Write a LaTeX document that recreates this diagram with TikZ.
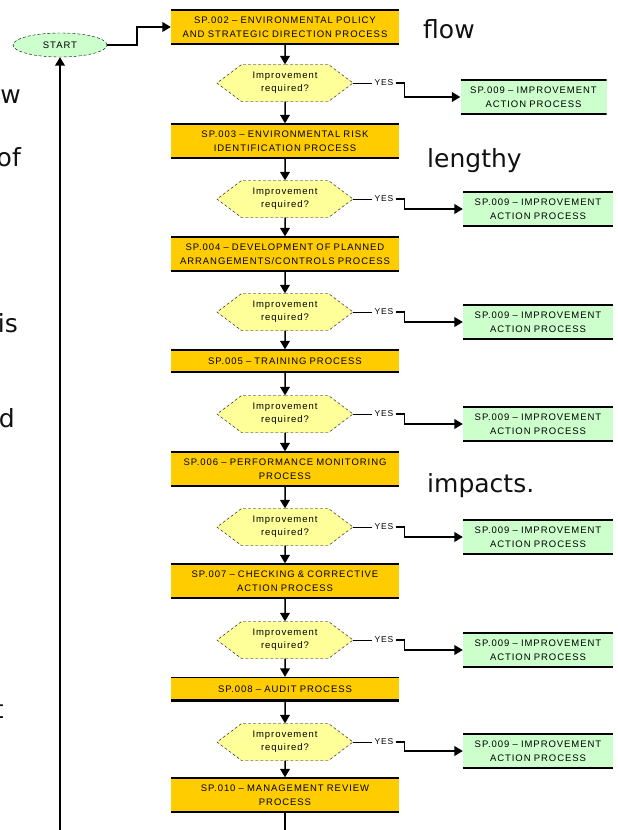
\documentclass[tikz,border=0pt]{standalone}
\usepackage{fontspec}
\usepackage{tikz}
\usetikzlibrary{arrows.meta,shapes.geometric,shapes.symbols}
\newfontfamily\boxfont[LetterSpace=10]{Liberation Sans}
\newfontfamily\slidefont{DejaVu Sans}
\definecolor{gold}{HTML}{FFCC00}
\definecolor{mint}{HTML}{CCFFCC}
\definecolor{pale}{HTML}{FFFF99}
\definecolor{ink}{HTML}{111111}
\tikzset{>/.tip={Triangle[scale=1.2]},
  proc/.style={rectangle, fill=gold, minimum width=228pt, minimum height=35pt, text width=224pt,
    align=center, inner sep=0pt, font={\boxfont\fontsize{9.5}{13.5}\selectfont},
    path picture={\draw[line width=4pt] (path picture bounding box.south west) -- (path picture bounding box.south east);
      \draw[line width=2pt] (path picture bounding box.north west) -- (path picture bounding box.north east);}},
  act/.style={proc, fill=mint, minimum width=150pt, text width=146pt},
  ask/.style={signal, signal to=west and east, signal pointer angle=74, fill=pale, draw, densely dashed,
    minimum width=136pt, minimum height=37pt, inner sep=0pt, align=center,
    font={\boxfont\fontsize{9.5}{13}\selectfont}},
  yes/.style={inner sep=2pt, font={\boxfont\fontsize{8.5}{10}\selectfont}},
  begin/.style={ellipse, fill=mint, draw, densely dashed, minimum width=94pt, minimum height=24pt,
    inner sep=0pt, font={\boxfont\fontsize{9.5}{10}\selectfont}},
  link/.style={->, line width=1.5pt},
  word/.style={inner sep=0pt, text=ink, font={\slidefont\fontsize{25}{28}\selectfont}}}

\begin{document}
\begin{tikzpicture}[x=1pt, y=-1pt]
\useasboundingbox (0,0) rectangle (618,830);
\node[word, anchor=base west] (t1) at (423,38)  {flow};
\node[word, anchor=base west] (t2) at (427,167) {lengthy};
\node[word, anchor=base west] (t3) at (427,492) {impacts.};
\node[word, anchor=base east] (t4) at (21,103)  {w};
\node[word, anchor=base east] (t5) at (21,166)  {of};
\node[word, anchor=base east] (t6) at (18,332)  {is};
\node[word, anchor=base east] (t7) at (15,427)  {d};
\node[word, anchor=base east] (t8) at (4,718)   {t};
\node[begin] (s) at (60,45) {START};
\node[proc] (p1) at (285,27)  {SP.002 – ENVIRONMENTAL POLICY\\AND STRATEGIC DIRECTION PROCESS};
\node[ask]  (d1) at (285,83)  {Improvement\\required?};
\node[proc] (p2) at (285,141) {SP.003 – ENVIRONMENTAL RISK\\IDENTIFICATION PROCESS};
\node[ask]  (d2) at (285,199) {Improvement\\required?};
\node[proc] (p3) at (285,254) {SP.004 – DEVELOPMENT OF PLANNED\\ARRANGEMENTS/CONTROLS PROCESS};
\node[ask]  (d3) at (285,312) {Improvement\\required?};
\node[proc, minimum height=23pt] (p4) at (285,361) {SP.005 – TRAINING PROCESS};
\node[ask]  (d4) at (285,414) {Improvement\\required?};
\node[proc] (p5) at (285,469) {SP.006 – PERFORMANCE MONITORING\\PROCESS};
\node[ask]  (d5) at (285,527) {Improvement\\required?};
\node[proc] (p6) at (285,581) {SP.007 – CHECKING \& CORRECTIVE\\ACTION PROCESS};
\node[ask]  (d6) at (285,640) {Improvement\\required?};
\node[proc, minimum height=24pt] (p7) at (285,689) {SP.008 – AUDIT PROCESS};
\node[ask]  (d7) at (285,742) {Improvement\\required?};
\node[proc] (p8) at (285,795) {SP.010 – MANAGEMENT REVIEW\\PROCESS};
\node[act, minimum width=141pt] (g1) at (533.5,97) {SP.009 – IMPROVEMENT\\ACTION PROCESS};
\node[act] (g2) at (538,209) {SP.009 – IMPROVEMENT\\ACTION PROCESS};
\node[act] (g3) at (538,322) {SP.009 – IMPROVEMENT\\ACTION PROCESS};
\node[act] (g4) at (538,424) {SP.009 – IMPROVEMENT\\ACTION PROCESS};
\node[act] (g5) at (538,537) {SP.009 – IMPROVEMENT\\ACTION PROCESS};
\node[act] (g6) at (538,650) {SP.009 – IMPROVEMENT\\ACTION PROCESS};
\node[act] (g7) at (538,751) {SP.009 – IMPROVEMENT\\ACTION PROCESS};
\node[yes] (y1) at (384,83)  {YES};
\node[yes] (y2) at (384,199) {YES};
\node[yes] (y3) at (384,312) {YES};
\node[yes] (y4) at (384,414) {YES};
\node[yes] (y5) at (384,527) {YES};
\node[yes] (y6) at (384,640) {YES};
\node[yes] (y7) at (384,742) {YES};
\draw[link] (s.east) -- ++(30,0) |- (p1.west);
\draw[link] (p1) to (d1);
\draw[link] (d1) to (p2);
\draw[link] (p2) to (d2);
\draw[link] (d2) to (p3);
\draw[link] (p3) to (d3);
\draw[link] (d3) to (p4);
\draw[link] (p4) to (d4);
\draw[link] (d4) to (p5);
\draw[link] (p5) to (d5);
\draw[link] (d5) to (p6);
\draw[link] (p6) to (d6);
\draw[link] (d6) to (p7);
\draw[link] (p7) to (d7);
\draw[link] (d7) to (p8);
\draw (d1.east) to (y1.west);
\draw (d2.east) to (y2.west);
\draw (d3.east) to (y3.west);
\draw (d4.east) to (y4.west);
\draw (d5.east) to (y5.west);
\draw (d6.east) to (y6.west);
\draw (d7.east) to (y7.west);
\draw[link] (y1.east) -- ++(9,0) |- (g1.west);
\draw[link] (y2.east) -- ++(9,0) |- (g2.west);
\draw[link] (y3.east) -- ++(9,0) |- (g3.west);
\draw[link] (y4.east) -- ++(9,0) |- (g4.west);
\draw[link] (y5.east) -- ++(9,0) |- (g5.west);
\draw[link] (y6.east) -- ++(9,0) |- (g6.west);
\draw[link] (y7.east) -- ++(9,0) |- (g7.west);
\draw[link] (p8.south) -- ++(0,40) -| (s.south);
\end{tikzpicture}
\end{document}
